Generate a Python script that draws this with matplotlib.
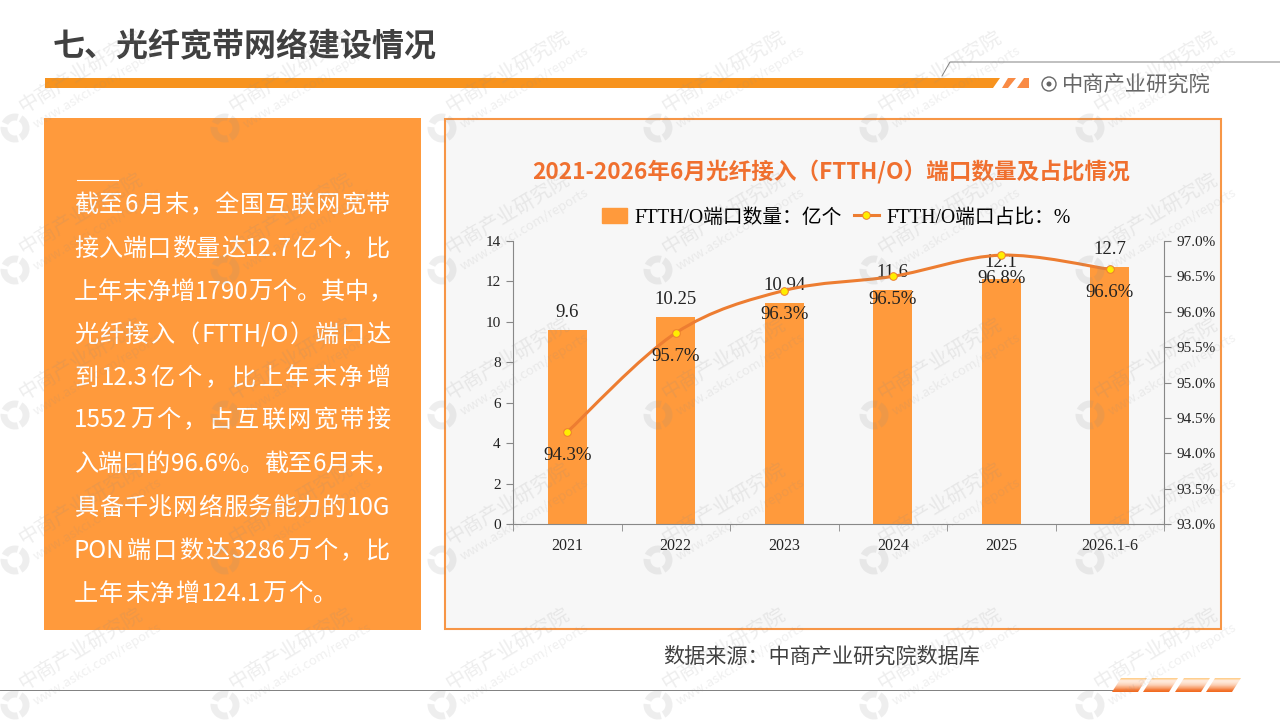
import numpy as np
import matplotlib
matplotlib.use("Agg")
import matplotlib.pyplot as plt
from matplotlib.lines import Line2D
from matplotlib.patches import Circle, PathPatch, Polygon, Rectangle, Wedge
from matplotlib.path import Path

years = ["2021", "2022", "2023", "2024", "2025", "2026.1-6"]
port_counts = [9.6, 10.25, 10.94, 11.6, 12.1, 12.7]
port_share = [94.3, 95.7, 96.3, 96.5, 96.8, 96.6]
left_ticks = [0, 2, 4, 6, 8, 10, 12, 14]
right_ticks = [93.0, 93.5, 94.0, 94.5, 95.0, 95.5, 96.0, 96.5, 97.0]

page_title = "七、光纤宽带网络建设情况"
chart_title = "2021-2026年6月光纤接入（FTTH/O）端口数量及占比情况"
count_legend = "FTTH/O端口数量：亿个"
share_legend = "FTTH/O端口占比：%"
source_text = "数据来源：中商产业研究院数据库"
brand = "中商产业研究院"
body_lines = [
    "截至6月末，全国互联网宽带",
    "接入端口数量达12.7亿个，比",
    "上年末净增1790万个。其中，",
    "光纤接入（FTTH/O）端口达",
    "到12.3亿个，比上年末净增",
    "1552万个，占互联网宽带接",
    "入端口的96.6%。截至6月末，",
    "具备千兆网络服务能力的10G",
    "PON端口数达3286万个，比",
    "上年末净增124.1万个。",
]
body_y = [205, 249, 292, 335, 378, 420, 464, 508, 551, 594]
wm_x = [15, 225, 442, 658, 874, 1090]
wm_y = [128, 270, 415, 560, 705]

SANS = ["Noto Sans CJK SC", "DejaVu Sans"]
SERIF = ["Liberation Serif", "Noto Sans CJK SC"]
ORANGE = "#FF9A3C"
LINE = "#ED7D31"
plt.rcParams["font.family"] = SANS

fig = plt.figure(figsize=(12.8, 7.2), dpi=100, facecolor="white")

# page furniture, drawn in pixel coordinates
bg = fig.add_axes([0, 0, 1, 1], zorder=0)
bg.set_xlim(0, 1280)
bg.set_ylim(720, 0)
bg.axis("off")

bg.text(53, 47, page_title, fontsize=23, fontweight="bold", color="#404040", va="center")
bg.add_patch(Polygon([(45, 78), (1000, 78), (993, 88), (45, 88)], color="#F7931E", lw=0))
bg.add_patch(Polygon([(1008, 78), (1016, 78), (1008, 88), (1002, 88)], color="#F98B45", lw=0))
bg.add_patch(Polygon([(1024, 78), (1029, 78), (1029, 88), (1017, 88)], color="#F98B45", lw=0))
bg.plot([942, 950, 1280], [76, 62, 62], color="#808080", lw=0.7)
bg.add_patch(Circle((1049, 84), 7, fc="none", ec="#666666", lw=1.0))
bg.add_patch(Circle((1049, 84), 2.5, fc="#666666", lw=0))
bg.text(1062, 84.5, brand, fontsize=15.3, color="#666666", va="center")

bg.add_patch(Rectangle((44, 118), 377, 512, color=ORANGE, lw=0))
bg.plot([77, 118], [180, 180], color="white", lw=0.8)

bg.add_patch(Rectangle((445, 119), 776, 510, fc="#F7F7F7", ec="#F79646", lw=1.5))
bg.text(831, 172, chart_title, fontsize=16.3, fontweight="bold", color="#F0702F",
        ha="center", va="center")
bg.text(822, 657, source_text, fontsize=15.2, color="#404040", ha="center", va="center")

bg.plot([0, 1113], [690, 690], color="#808080", lw=0.7)
gradient = np.array([[1.0], [0.5], [0.5], [0.45], [0.4], [0.3], [0.2], [0.08], [0.0]])
cmap = matplotlib.colors.LinearSegmentedColormap.from_list("foot", ["#F26B21", "#FFE9D9", "#FFCF8F"])
for x0 in (1112, 1143, 1175, 1206):
    img = bg.imshow(gradient, extent=(x0, x0 + 36, 692, 678), cmap=cmap, vmin=0, vmax=1,
                    aspect="auto", zorder=2, interpolation="bilinear")
    img.set_clip_path(Polygon([(x0, 692), (x0 + 26, 692), (x0 + 35, 678), (x0 + 9, 678)],
                              transform=bg.transData))
bg.set_xlim(0, 1280)
bg.set_ylim(720, 0)


def justify(text, x0, x1, y, size):
    # split into CJK characters and latin runs, then spread the spare width
    tokens = []
    for ch in text:
        if ch.isascii() and tokens and tokens[-1].isascii():
            tokens[-1] += ch
        else:
            tokens.append(ch)
    renderer = fig.canvas.get_renderer()
    items = [bg.text(0, y, t, fontsize=size, color="white", va="center") for t in tokens]
    widths = [it.get_window_extent(renderer).width for it in items]
    gap = max((x1 - x0 - sum(widths)) / max(len(items) - 1, 1), 0)
    if text.endswith("万个。"):
        gap = min(gap, 1.2)
    x = x0
    for it, w in zip(items, widths):
        it.set_x(x)
        x += w + gap


for line, y in zip(body_lines, body_y):
    justify(line, 74, 390, y, 17.4)

# chart
ax = fig.add_axes([513 / 1280, 1 - 524 / 720, 651 / 1280, 283 / 720], zorder=1)
ax.patch.set_alpha(0)
pos = np.arange(len(years))
ax.bar(pos, port_counts, width=0.355, color=ORANGE, zorder=2)
ax.set_xlim(-0.5, 5.5)
ax.set_ylim(0, 14)
ax.set_yticks(left_ticks)
ax.set_xticks(pos)
ax.set_xticklabels(years, family=SERIF, fontsize=11.5, color="#222222")
ax.tick_params(axis="x", length=0, pad=10)
ax.set_xticks(np.arange(-0.5, 6), minor=True)
ax.tick_params(axis="x", which="minor", length=5, color="#888888", direction="out")
ax.tick_params(axis="y", length=5, color="#888888", pad=4, labelsize=11, labelcolor="#222222")
for lab in ax.get_yticklabels():
    lab.set_fontfamily(SERIF)
ax.spines["top"].set_visible(False)
ax.spines["right"].set_visible(False)
for side in ("left", "bottom"):
    ax.spines[side].set_color("#888888")

ax2 = ax.twinx()
ax2.set_ylim(93, 97)
ax2.set_yticks(right_ticks)
ax2.set_yticklabels([f"{v:.1f}%" for v in right_ticks], family=SERIF, fontsize=11, color="#222222")
ax2.tick_params(axis="y", length=5, color="#888888", pad=4)
ax2.spines["top"].set_visible(False)
ax2.spines["left"].set_visible(False)
ax2.spines["bottom"].set_visible(False)
ax2.spines["right"].set_color("#888888")

# smoothed line through the share values (Catmull-Rom handles as bezier controls)
pts = np.column_stack([pos, port_share])
verts = [tuple(pts[0])]
codes = [Path.MOVETO]
for i in range(len(pts) - 1):
    prev_pt = pts[max(i - 1, 0)]
    next_pt = pts[min(i + 2, len(pts) - 1)]
    verts += [tuple(pts[i] + (pts[i + 1] - prev_pt) / 6),
              tuple(pts[i + 1] - (next_pt - pts[i]) / 6),
              tuple(pts[i + 1])]
    codes += [Path.CURVE4] * 3
ax2.add_patch(PathPatch(Path(verts, codes), fc="none", ec=LINE, lw=2.2, zorder=3))
ax2.plot(pos, port_share, ls="none", marker="o", ms=5.5, mfc="#FFEE00", mec=LINE, mew=0.7, zorder=4)

for x, v in zip(pos, port_counts):
    ax.annotate(f"{v:g}", (x, v), xytext=(0, 12.5), textcoords="offset points", ha="center",
                va="center", family=SERIF, fontsize=13.5, color="#222222", zorder=5)
for x, v in zip(pos, port_share):
    ax2.annotate(f"{v:.1f}%", (x, v), xytext=(0, -17), textcoords="offset points", ha="center",
                 va="center", family=SERIF, fontsize=13.5, color="#222222", zorder=5)

handles = [Rectangle((0, 0), 1, 1, color=ORANGE),
           Line2D([], [], color=LINE, lw=2.2, marker="o", ms=5.5, mfc="#FFEE00", mec=LINE, mew=0.7)]
leg = ax2.legend(handles, [count_legend, share_legend], loc="center",
                 bbox_to_anchor=(836.5 / 1280, 1 - 218 / 720), bbox_transform=fig.transFigure,
                 ncol=2, frameon=False, prop={"family": SERIF, "size": 14.2},
                 handlelength=1.25, handleheight=0.75, handletextpad=0.4, columnspacing=0.6)

# watermark tiled over everything
wm = fig.add_axes([0, 0, 1, 1], zorder=5)
wm.set_xlim(0, 1280)
wm.set_ylim(720, 0)
wm.axis("off")
wm.patch.set_alpha(0)
GREY = "#8C8C8C"
for cx in wm_x:
    for cy in wm_y:
        # y axis is inverted, so the wedge angles run clockwise on screen
        for a0, a1 in ((-60, 60), (75, 185), (205, 285)):
            wm.add_patch(Wedge((cx, cy), 14.5, a0, a1, width=7, color=GREY, alpha=0.14, lw=0, clip_on=True))
        wm.text(cx + 65, cy - 56, brand, fontsize=14.5, color=GREY, alpha=0.15,
                rotation=31, rotation_mode="anchor", ha="center", va="center", clip_on=True)
        wm.text(cx + 82, cy - 41, "www.askci.com/reports", fontsize=9.5, color=GREY, alpha=0.13,
                rotation=31, rotation_mode="anchor", ha="center", va="center", clip_on=True)

fig.savefig("out.png", dpi=100)
